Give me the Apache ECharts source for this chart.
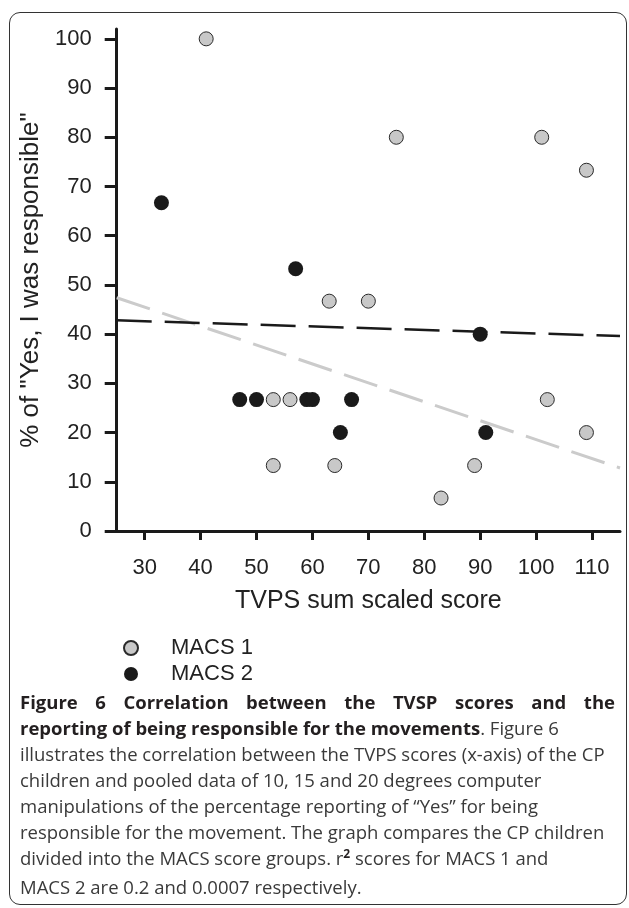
<!DOCTYPE html>
<html><head><meta charset="utf-8">
<script src="https://cdn.jsdelivr.net/npm/echarts@6/dist/echarts.min.js"></script>
<style>
html,body{margin:0;padding:0;background:#fff;}
#chart{position:absolute;left:0;top:0;width:629px;height:908px;}
#frame{position:absolute;left:9px;top:12px;width:616px;height:891px;border:1.5px solid #333;border-radius:11px;pointer-events:none;}
#caption{position:absolute;left:20px;top:689px;width:595px;font-family:'Open Sans',sans-serif;font-size:18.5px;line-height:26px;color:#3a3a3a;}
#caption div{white-space:nowrap;}
#caption div.j{text-align:justify;text-align-last:justify;white-space:normal;}
#caption b{color:#231f20;font-weight:700;}
.sq{font-size:12px;font-weight:700;color:#231f20;position:relative;top:-7px;}
</style>
</head><body>
<div id="chart"></div>
<div id="frame"></div>
<div id="caption">
<div class="j"><b>Figure 6 Correlation between the TVSP scores and the</b></div>
<div><b>reporting of being responsible for the movements</b>. Figure 6</div>
<div>illustrates the correlation between the TVPS scores (x-axis) of the CP</div>
<div>children and pooled data of 10, 15 and 20 degrees computer</div>
<div>manipulations of the percentage reporting of “Yes” for being</div>
<div>responsible for the movement. The graph compares the CP children</div>
<div>divided into the MACS score groups. r<span class="sq">2</span> scores for MACS 1 and</div>
<div>MACS 2 are 0.2 and 0.0007 respectively.</div>
</div>
<script>
// ---- data ----
const seriesNames = ['MACS 1', 'MACS 2'];
const macs1X = [41, 75, 101, 109, 63, 70, 53, 56, 53, 64, 83, 89, 102, 109];
const macs1Y = [100, 80, 80, 73.3, 46.7, 46.7, 26.7, 26.7, 13.3, 13.3, 6.7, 13.3, 26.7, 20];
const macs2X = [33, 57, 47, 50, 59, 60, 67, 65, 90, 91];
const macs2Y = [66.7, 53.3, 26.7, 26.7, 26.7, 26.7, 26.7, 20, 40, 20];
const fit1X = [25, 115];
const fit1Y = [47.4, 12.8];
const fit2X = [25, 115];
const fit2Y = [42.8, 39.6];
const xTicks = [30, 40, 50, 60, 70, 80, 90, 100, 110];
const yTicks = [0, 10, 20, 30, 40, 50, 60, 70, 80, 90, 100];
const xName = 'TVPS sum scaled score';
const yName = '% of "Yes, I was responsible"';

const zip = (a, b) => a.map((v, i) => [v, b[i]]);
const FONT = 'Liberation Sans, Arial, sans-serif';
const AX = '#1a1a1a';

const chart = echarts.init(document.getElementById('chart'), null, {renderer: 'canvas'});
chart.setOption({
  animation: false,
  backgroundColor: '#fff',
  grid: {left: 116.7, width: 503.3, top: 29, height: 502},
  legend: {
    data: seriesNames,
    orient: 'vertical',
    left: 118, top: 632,
    icon: 'circle',
    itemWidth: 14, itemHeight: 14,
    itemGap: 4,
    textStyle: {fontFamily: FONT, fontSize: 22, color: '#222', lineHeight: 22, padding: [0, 0, 0, 28]}
  },
  xAxis: {
    type: 'value', min: 25, max: 115,
    name: xName, nameLocation: 'middle', nameGap: 58,
    nameTextStyle: {fontFamily: FONT, fontSize: 25, color: '#222'},
    axisLine: {show: true, lineStyle: {color: AX, width: 3}},
    axisTick: {show: true, length: 9, lineStyle: {color: AX, width: 3}, customValues: xTicks},
    axisLabel: {margin: 26, fontFamily: FONT, fontSize: 22, color: '#222', customValues: xTicks},
    splitLine: {show: false}
  },
  yAxis: {
    type: 'value', min: 0, max: 102,
    name: yName, nameLocation: 'middle', nameGap: 67, nameRotate: 90,
    nameTextStyle: {fontFamily: FONT, fontSize: 26, color: '#222'},
    axisLine: {show: true, lineStyle: {color: AX, width: 3}},
    axisTick: {show: true, length: 12, lineStyle: {color: AX, width: 3}, customValues: yTicks},
    axisLabel: {margin: 25, fontFamily: FONT, fontSize: 22, color: '#222', customValues: yTicks},
    splitLine: {show: false}
  },
  series: [
    {name: 'fit1', type: 'line', data: zip(fit1X, fit1Y), symbol: 'none', silent: true,
     lineStyle: {color: '#cbcbcb', width: 3, type: [35, 13]}, z: 1},
    {name: 'fit2', type: 'line', data: zip(fit2X, fit2Y), symbol: 'none', silent: true,
     lineStyle: {color: '#1a1a1a', width: 2.5, type: [35, 13]}, z: 1},
    {name: seriesNames[0], type: 'scatter', data: zip(macs1X, macs1Y), symbol: 'circle', symbolSize: 14,
     itemStyle: {color: '#c8c8c8', borderColor: '#2a2a2a', borderWidth: 1, opacity: 1}, z: 3},
    {name: seriesNames[1], type: 'scatter', data: zip(macs2X, macs2Y), symbol: 'circle', symbolSize: 15,
     itemStyle: {color: '#1a1a1a', borderColor: '#1a1a1a', borderWidth: 0, opacity: 1}, z: 3}
  ]
});
</script>
</body></html>
